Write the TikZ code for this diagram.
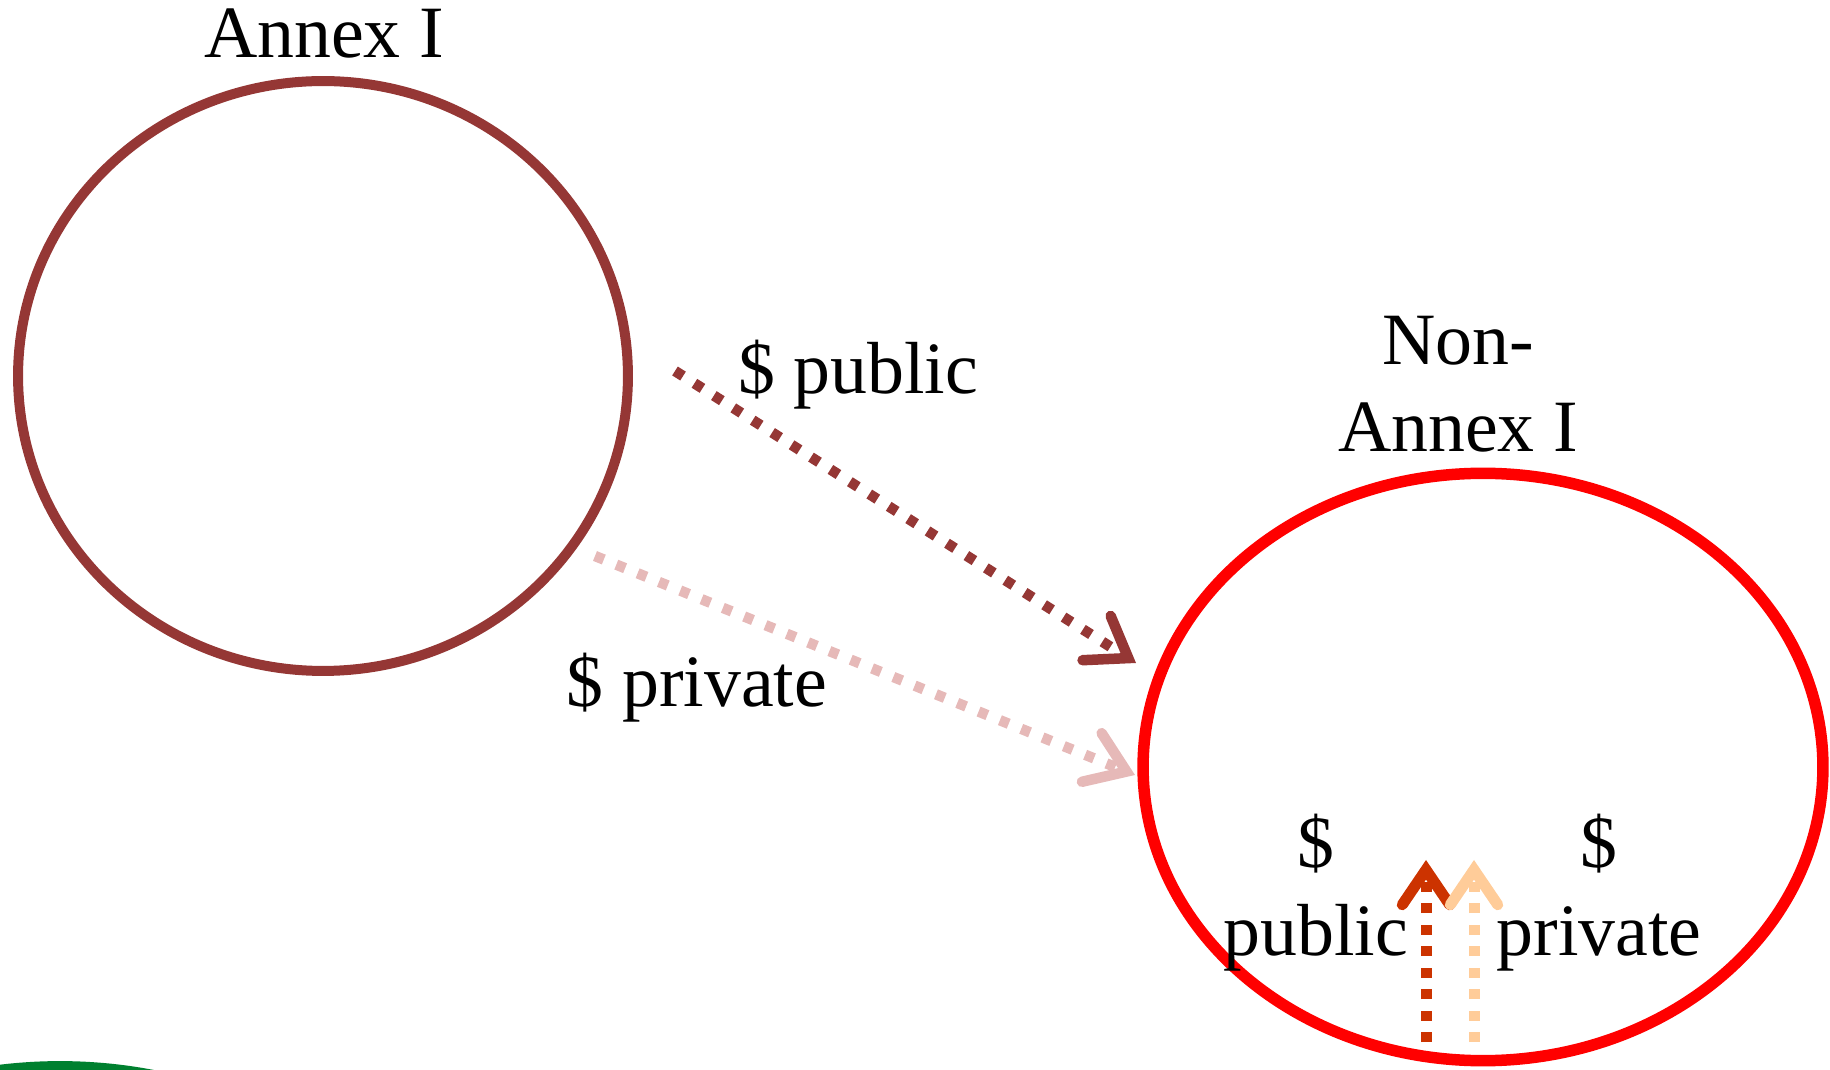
\documentclass[tikz,border=0pt]{standalone}
\usepackage{fontspec}
\setmainfont{Liberation Serif}
\usetikzlibrary{shapes.geometric,arrows.meta}
\definecolor{annexc}{HTML}{953735}
\definecolor{pinkc}{HTML}{E6B9B8}
\definecolor{nonannexc}{HTML}{FF0000}
\definecolor{orangec}{HTML}{CC3300}
\definecolor{peachc}{HTML}{FFCC99}
\definecolor{greenc}{HTML}{00802F}
\tikzset{
  lbl/.style={font=\fontsize{42}{50}\selectfont, inner sep=0pt, align=center, anchor=base},
  region/.style={ellipse, draw, inner sep=0pt},
  flowdiag/.style={line width=0.21cm, dash pattern=on 0.19cm off 0.27cm,
    -{Straight Barb[length=0.75cm, width=1.05cm, line cap=round, line join=miter]}},
  flowvert/.style={line width=0.22cm, dash pattern=on 0.2cm off 0.23cm,
    -{Straight Barb[length=0.7cm, width=0.95cm, line cap=round, line join=miter]}}
}
\begin{document}
\begin{tikzpicture}[x=0.02cm,y=-0.02cm]
\useasboundingbox (0,0) rectangle (1830,1070);
\clip (0,0) rectangle (1830,1070);
\node[region, draw=annexc, line width=0.2cm, minimum width=12.2cm, minimum height=11.8cm] (annex) at (323,376) {};
\node[region, draw=nonannexc, line width=0.23cm, minimum width=13.6cm, minimum height=11.75cm] (nonannex) at (1483,767) {};
\node[region, draw=greenc, line width=0.2cm, minimum width=19.6cm, minimum height=19.6cm] (green) at (60,1556) {};
\node[lbl] (annexlbl) at (324,58) {Annex I};
\node[lbl] (nonannexlbl) at (1458,452) {Non-\\Annex I};
\node[lbl] (publbl) at (858,394) {\$ public};
\node[lbl] (privlbl) at (697,707) {\$ private};
\node[lbl] (inpub) at (1316,955) {\$\\public};
\node[lbl] (inpriv) at (1599,955) {\$\\private};
\coordinate (pubstart) at (675,371);
\coordinate (pubend) at (1136,663);
\coordinate (privstart) at (595,556);
\coordinate (privend) at (1135,775);
\coordinate (vpubstart) at (1426,1042);
\coordinate (vpubend) at (1426,860);
\coordinate (vprivstart) at (1474,1042);
\coordinate (vprivend) at (1474,860);
\draw[flowdiag, draw=annexc] (pubstart) -- (pubend);
\draw[flowdiag, draw=pinkc] (privstart) -- (privend);
\draw[flowvert, draw=orangec] (vpubstart) -- (vpubend);
\draw[flowvert, draw=peachc] (vprivstart) -- (vprivend);
\end{tikzpicture}
\end{document}
